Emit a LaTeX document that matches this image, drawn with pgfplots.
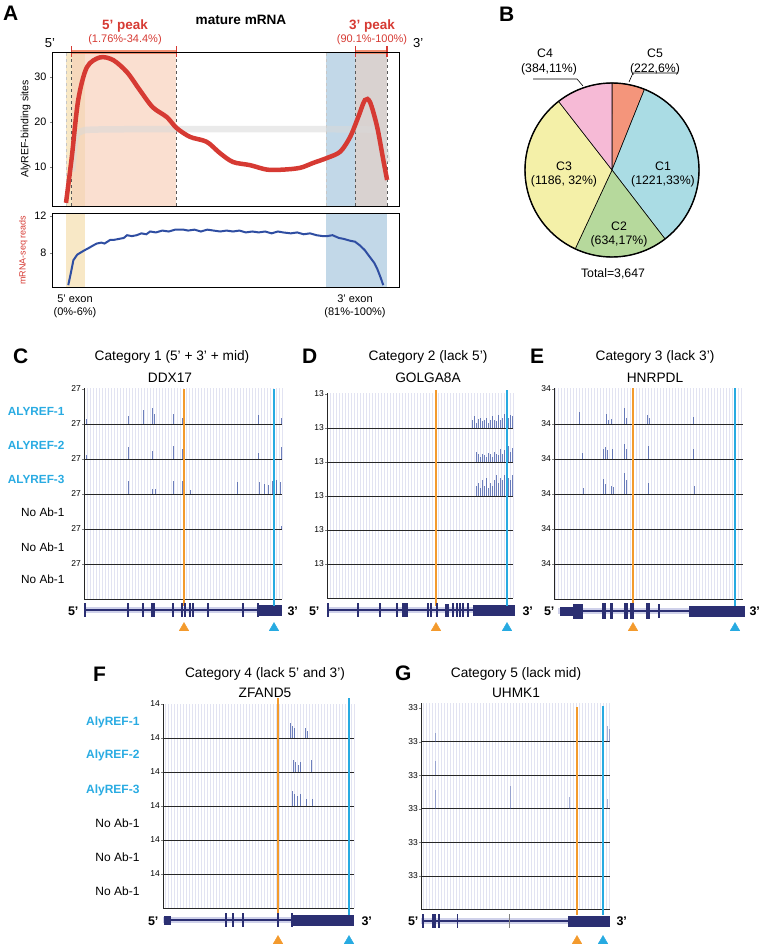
\documentclass[border=0pt]{standalone}
\usepackage{pgfplots}
\pgfplotsset{compat=1.18}
\usepackage{fontspec}
\setmainfont{Liberation Sans}

\newcommand\fs[1]{\fontsize{#1}{#1}\selectfont}

\definecolor{ared}{HTML}{D63A33}
\definecolor{asalm}{HTML}{F28C6E}
\definecolor{ayel}{HTML}{F8E8C6}
\definecolor{aovl}{HTML}{F6D8BC}
\definecolor{apeach}{HTML}{FADFD0}
\definecolor{ablu}{HTML}{C2D8E8}
\definecolor{agrey}{HTML}{D9D2D0}
\definecolor{aline}{HTML}{2F4EA2}
\definecolor{pCa}{HTML}{AADCE4}
\definecolor{pCb}{HTML}{B6D99C}
\definecolor{pCc}{HTML}{F4F0A8}
\definecolor{pCd}{HTML}{F6BAD6}
\definecolor{pCe}{HTML}{F4957B}
\definecolor{torange}{HTML}{F39A2D}
\definecolor{tblue}{HTML}{27AAE1}
\definecolor{navy}{HTML}{2B2F72}
\definecolor{lav}{HTML}{E2E3F2}
\definecolor{halo}{HTML}{CFD1EA}
\definecolor{spkc}{HTML}{3D55A5}
\definecolor{cyanlab}{HTML}{29ABE2}

\pgfplotsset{
  /pgf/number format/assume math mode=true,
  fr/.style={scale only axis, anchor=north west, y dir=reverse,
    axis line style={draw=none}, ytick=\empty, xticklabels={},
    xtick style={draw=none}, xmajorgrids, xtick distance=3,
    major grid style={lav, line width=0.5pt}},
  tk/.style={scale only axis, anchor=north west, ymin=0,
    axis line style={draw=none}, xtick=\empty, ytick pos=left,
    tick align=outside, major tick length=2pt, clip=false,
    yticklabel style={font=\fs{8.5}, inner sep=1pt}},
  ov/.style={scale only axis, anchor=north west, y dir=reverse,
    hide axis, clip=false},
  spk/.style={ycomb, spkc, line width=0.7pt, opacity=0.75},
  exon/.style={only marks, mark=|, mark size=7pt, navy,
    mark options={line width=1.3pt}},
}

% track: x-left, x-right, y-top (px), height, ymax, spikes
\newcommand\trk[6]{%
  \pgfmathsetmacro\tw{#2-#1}%
  \begin{axis}[tk, at={(#1pt,-#3pt)}, width=\tw pt, height=#4pt,
      xmin=#1, xmax=#2, ymax=#5, ytick={#5}]
    \draw[line width=1pt, black!85] (rel axis cs:0,0) -- (rel axis cs:1,0);
    #6
  \end{axis}}
% frame with the light stripes and the left line
\newcommand\frm[4]{%
  \pgfmathsetmacro\tw{#2-#1}\pgfmathsetmacro\th{#4-#3}%
  \begin{axis}[fr, at={(#1pt,-#3pt)}, width=\tw pt, height=\th pt,
      xmin=#1, xmax=#2, ymin=#3, ymax=#4]
    \draw[line width=1pt, black!85] (rel axis cs:0,0) -- (rel axis cs:0,1);
  \end{axis}}
% overlay: marker lines, gene model, triangles
\newcommand\ovl[5]{%
  \pgfmathsetmacro\tw{#2-#1}\pgfmathsetmacro\th{#4-#3}%
  \begin{axis}[ov, at={(#1pt,-#3pt)}, width=\tw pt, height=\th pt,
      xmin=#1, xmax=#2, ymin=#3, ymax=#4]
    #5
  \end{axis}}

\begin{document}
\begin{tikzpicture}
\path[use as bounding box] (0,0) rectangle (759pt,-945pt);

% ================= A =================
\node[anchor=base west, inner sep=0, font=\fs{21}\bfseries] at (3pt,-20pt) {A};
\node[anchor=base, font=\fs{13.6}\bfseries] at (241pt,-24pt) {mature mRNA};
\node[anchor=base, font=\fs{13.5}\bfseries, text=ared] at (125pt,-29pt) {5' peak};
\node[anchor=base, font=\fs{11}, text=ared] at (125pt,-42pt) {(1.76\%-34.4\%)};
\node[anchor=base, font=\fs{13.5}\bfseries, text=ared] at (372pt,-29pt) {3' peak};
\node[anchor=base, font=\fs{11}, text=ared] at (372pt,-42pt) {(90.1\%-100\%)};
\node[anchor=base, font=\fs{13}] at (50pt,-47pt) {5'};
\node[anchor=base west, inner sep=0, font=\fs{13}] at (413pt,-47pt) {3'};

\begin{axis}[scale only axis, anchor=north west, at={(53pt,-52pt)},
    width=346pt, height=154pt, xmin=-4.05, xmax=103.7, ymin=1.3, ymax=35.6,
    xtick=\empty, ytick={10,20,30}, ytick pos=left, tick align=outside,
    major tick length=3pt, tick label style={font=\fs{10.8}},
    ylabel={AlyREF-binding sites}, ylabel style={font=\fs{10.5}, yshift=-3pt},
    axis line style={line width=1pt}, axis on top, clip=false]
  \fill[ayel] (axis cs:0,1.3) rectangle (axis cs:1.76,35.6);
  \fill[aovl] (axis cs:1.76,1.3) rectangle (axis cs:6,35.6);
  \fill[apeach] (axis cs:6,1.3) rectangle (axis cs:34.4,35.6);
  \fill[ablu] (axis cs:81,1.3) rectangle (axis cs:90.1,35.6);
  \fill[agrey] (axis cs:90.1,1.3) rectangle (axis cs:100,35.6);
  \draw[gray!45, dashed, line width=0.8pt] (axis cs:0,1.3) -- (axis cs:0,35.6);
  \draw[gray!45, dashed, line width=0.8pt] (axis cs:81,1.3) -- (axis cs:81,35.6);
  \draw[black!65, dashed, line width=0.8pt] (axis cs:1.76,1.3) -- (axis cs:1.76,35.6);
  \draw[black!65, dashed, line width=0.8pt] (axis cs:34.4,1.3) -- (axis cs:34.4,35.6);
  \draw[black!65, dashed, line width=0.8pt] (axis cs:90.1,1.3) -- (axis cs:90.1,35.6);
  \draw[black!65, dashed, line width=0.8pt] (axis cs:100,1.3) -- (axis cs:100,35.6);
  % background band
  \addplot[gray!30, line width=6.5pt, smooth, opacity=0.55] coordinates {
    (1.9,9)(3,16.5)(5,18)(8,18.3)(20,18.4)(50,18.4)(80,18.4)(95,18.3)
    (97.5,17.6)(99.3,14)(100,11)};
  % AlyREF binding profile
  \addplot[ared, line width=4.5pt, smooth, tension=0.5] coordinates {
    (0,2.0)(1.8,12.2)(3.8,24.9)(6.5,32.2)(10.6,34.4)(14.7,33.8)(19,31.1)
    (23,27.1)(27,23.3)(31.4,21.1)(34.4,18.7)(38.6,16.7)(43.8,15.6)(47.9,13.1)
    (52,11.1)(57.3,10.4)(62.6,9.4)(67.6,9.4)(72.9,9.8)(77,10.9)(81.3,12)
    (85.4,13.4)(88.5,16.7)(91,21.1)(93.1,24.9)(94.7,24.4)(96.9,18.9)
    (98.8,11.6)(100,7.1)};
  % peak brackets on top
  \draw[asalm, line width=4pt] (axis cs:1.76,35.6) -- (axis cs:34.4,35.6);
  \draw[asalm, line width=4pt] (axis cs:90.1,35.6) -- (axis cs:100,35.6);
  \draw[ared, line width=1.3pt] (axis cs:1.76,34.5) -- (axis cs:1.76,36.9);
  \draw[ared, line width=1.3pt] (axis cs:34.4,34.5) -- (axis cs:34.4,36.9);
  \draw[ared, line width=1.3pt] (axis cs:90.1,34.5) -- (axis cs:90.1,36.9);
  \draw[ared, line width=1.3pt] (axis cs:100,34.5) -- (axis cs:100,36.9);
\end{axis}

\begin{axis}[scale only axis, anchor=north west, at={(53pt,-213pt)},
    width=346pt, height=74pt, xmin=-4.05, xmax=103.7, ymin=4.3, ymax=12.3,
    xtick=\empty, ytick={8,12}, ytick pos=left, tick align=outside,
    major tick length=3pt, tick label style={font=\fs{10.8}},
    ylabel={mRNA-seq reads}, ylabel style={font=\fs{9}, text=ared},
    axis line style={line width=1pt}, axis on top, clip=false]
  \fill[ayel] (axis cs:0,4.3) rectangle (axis cs:6,12.3);
  \fill[ablu] (axis cs:81,4.3) rectangle (axis cs:100,12.3);
  \addplot[aline, line width=2pt] coordinates {
    (0.7,4.5)(1.5,5.8)(2.3,7.2)(3.5,7.8)(5.4,8.2)(7,8.5)(8.5,8.8)(9.6,9.0)
    (11,9.1)(12,9.0)(13.8,9.4)(15,9.4)(16.5,9.5)(18,9.6)(19,9.9)(20.5,9.8)
    (22,9.9)(23.5,10.1)(25,10.0)(26.2,10.3)(28,10.2)(30,10.4)(32,10.3)
    (34,10.5)(36.6,10.5)(38,10.4)(40,10.5)(42,10.3)(44,10.5)(46,10.4)
    (48,10.3)(50,10.4)(52,10.3)(54,10.4)(56,10.2)(58,10.3)(60,10.2)
    (62,10.3)(64,10.1)(66,10.3)(67.6,10.2)(70,10.1)(72,10.2)(74,10.0)
    (76,10.1)(78,9.9)(80,9.8)(81.3,9.8)(83,9.9)(85,9.6)(86.5,9.5)(88.5,9.3)
    (90,9.2)(91.5,8.8)(93,8.3)(94.5,7.6)(96,6.9)(97,6.2)(98,5.3)(98.8,4.5)};
\end{axis}
\node[anchor=base, font=\fs{11}] at (75pt,-302pt) {5' exon};
\node[anchor=base, font=\fs{11}] at (75pt,-315pt) {(0\%-6\%)};
\node[anchor=base, font=\fs{11}] at (355pt,-302pt) {3' exon};
\node[anchor=base, font=\fs{11}] at (355pt,-315pt) {(81\%-100\%)};

% ================= B =================
\node[anchor=base west, inner sep=0, font=\fs{21}\bfseries] at (499pt,-21pt) {B};
\pgfmathsetmacro\tot{222+1221+634+1186+384}
\pgfmathsetmacro\dg{360/\tot}
\pgfmathsetmacro\aA{90}
\pgfmathsetmacro\aB{\aA-\dg*222}
\pgfmathsetmacro\aC{\aB-\dg*1221}
\pgfmathsetmacro\aD{\aC-\dg*634}
\pgfmathsetmacro\aE{\aD-\dg*1186}
\pgfmathsetmacro\aF{\aE-\dg*384}
\begin{axis}[hide axis, scale only axis, anchor=center, at={(612pt,-170pt)},
    width=174pt, height=174pt, xmin=-1, xmax=1, ymin=-1, ymax=1, clip=false]
  \filldraw[fill=pCe, line width=0.6pt] (axis cs:0,0) -- (axis cs:{cos(\aA)},{sin(\aA)})
    arc[start angle=\aA, end angle=\aB, radius=87pt] -- cycle;
  \filldraw[fill=pCa, line width=0.6pt] (axis cs:0,0) -- (axis cs:{cos(\aB)},{sin(\aB)})
    arc[start angle=\aB, end angle=\aC, radius=87pt] -- cycle;
  \filldraw[fill=pCb, line width=0.6pt] (axis cs:0,0) -- (axis cs:{cos(\aC)},{sin(\aC)})
    arc[start angle=\aC, end angle=\aD, radius=87pt] -- cycle;
  \filldraw[fill=pCc, line width=0.6pt] (axis cs:0,0) -- (axis cs:{cos(\aD)},{sin(\aD)})
    arc[start angle=\aD, end angle=\aE, radius=87pt] -- cycle;
  \filldraw[fill=pCd, line width=0.6pt] (axis cs:0,0) -- (axis cs:{cos(\aE)},{sin(\aE)})
    arc[start angle=\aE, end angle=\aF, radius=87pt] -- cycle;
  \draw[line width=1.4pt] (axis cs:0,0) circle[radius=87pt];
\end{axis}
\draw[line width=0.6pt] (533pt,-79pt) -- (577pt,-79pt) -- (583pt,-86pt);
\draw[line width=0.6pt] (678pt,-73pt) -- (633pt,-73pt) -- (629pt,-82pt);
\node[anchor=base, font=\fs{12.3}] at (545pt,-57pt) {C4};
\node[anchor=base, font=\fs{12.3}] at (549pt,-72pt) {(384,11\%)};
\node[anchor=base, font=\fs{12.3}] at (655pt,-57pt) {C5};
\node[anchor=base, font=\fs{12.3}] at (655pt,-72pt) {(222,6\%)};
\node[anchor=base, font=\fs{12.3}] at (663pt,-170pt) {C1};
\node[anchor=base, font=\fs{12.3}] at (663pt,-184pt) {(1221,33\%)};
\node[anchor=base, font=\fs{12.3}] at (564pt,-170pt) {C3};
\node[anchor=base, font=\fs{12.3}] at (564pt,-184pt) {(1186, 32\%)};
\node[anchor=base, font=\fs{12.3}] at (619pt,-230pt) {C2};
\node[anchor=base, font=\fs{12.3}] at (619pt,-244pt) {(634,17\%)};
\node[anchor=base, font=\fs{12.3}] at (613pt,-277pt) {Total=3,647};

% ================= C =================
\node[anchor=base west, inner sep=0, font=\fs{21}\bfseries] at (13pt,-363pt) {C};
\node[anchor=base, font=\fs{13.7}] at (172pt,-360pt) {Category 1 (5' + 3' + mid)};
\node[anchor=base, font=\fs{13.7}] at (170pt,-382pt) {DDX17};
\begin{scope}[every node/.style={anchor=base east, font=\fs{11.8}\bfseries, text=cyanlab}]
  \node at (68pt,-415pt) {ALYREF-1};
  \node at (68pt,-449pt) {ALYREF-2};
  \node at (68pt,-483pt) {ALYREF-3};
\end{scope}
\begin{scope}[every node/.style={anchor=base east, font=\fs{11.8}}]
  \node at (68pt,-516pt) {No Ab-1};
  \node at (68pt,-551pt) {No Ab-1};
  \node at (68pt,-583pt) {No Ab-1};
\end{scope}
\frm{84}{282}{388}{599}
\trk{84}{282}{389}{35}{27}{\addplot[spk] coordinates {(86,4)(128,6)(143,11)(152,12)(154,8)(173,8)(182,5)(184,4)(258,7)(281,5)};}
\trk{84}{282}{424}{35}{27}{\addplot[spk] coordinates {(86,3)(128,9)(152,6)(173,10)(182,8)(184,5)(258,5)(281,9)};}
\trk{84}{282}{459}{35}{27}{\addplot[spk] coordinates {(128,10)(152,4)(155,4)(173,10)(182,10)(184,6)(190,3)(237,9)(259,9)(264,8)(268,7)(272,10)(276,11)(280,9)};}
\trk{84}{282}{494}{35}{27}{\addplot[spk] coordinates {(281,2)};}
\trk{84}{282}{529}{35}{27}{}
\trk{84}{282}{564}{35}{27}{}
\ovl{84}{282}{389}{640}{
  \addplot[halo, line width=6pt] coordinates {(84,610)(282,610)};
  \addplot[navy, line width=1.2pt] coordinates {(84,610)(258,610)};
  \addplot[exon] coordinates {(85,610)(128,610)(143,610)(152,610)(154,610)(173,610)(182,610)(185,610)(190,610)(193,610)(208,610)(243,610)(258,610)};
  \addplot[navy, line width=11pt] coordinates {(258,610)(282,610)};
  \addplot[torange, line width=1.3pt] coordinates {(184,389)(184,606)};
  \addplot[tblue, line width=1.3pt] coordinates {(274,389)(274,606)};
  \addplot[only marks, mark=triangle*, mark size=5.5pt, torange] coordinates {(184,628)};
  \addplot[only marks, mark=triangle*, mark size=5.5pt, tblue] coordinates {(274,628)};
}
\node[anchor=base east, font=\fs{12.5}\bfseries] at (82pt,-615pt) {5'};
\node[anchor=base west, font=\fs{12.5}\bfseries] at (284pt,-615pt) {3'};

% ================= D =================
\node[anchor=base west, inner sep=0, font=\fs{21}\bfseries] at (302pt,-363pt) {D};
\node[anchor=base, font=\fs{13.7}] at (428pt,-360pt) {Category 2 (lack 5')};
\node[anchor=base, font=\fs{13.7}] at (428pt,-382pt) {GOLGA8A};
\frm{327}{513}{393}{598}
\trk{327}{513}{394}{34}{13}{\addplot[spk] coordinates {(472,3)(474,4.5)(476,2)(478,3.5)(480,4)(482,2.5)(484,3)(486,4)(488,2)(490,3)(492,4.5)(494,3)(496,2.5)(498,5)(500,3)(502,4)(504,5.5)(506,3)(508,4)(510,5)(512,4.5)};}
\trk{327}{513}{428}{34}{13}{\addplot[spk] coordinates {(476,4)(478,3)(480,2)(482,3)(484,2.5)(486,2)(488,3.5)(490,3)(492,2)(494,4)(496,3)(498,2.5)(500,5)(502,3)(504,4.5)(506,5)(508,6)(510,4)(512,5.5)};}
\trk{327}{513}{462}{34}{13}{\addplot[spk] coordinates {(476,4)(478,5)(480,3)(482,6)(484,4)(486,7)(488,3)(490,5)(492,4)(494,6)(496,8)(498,5)(500,7)(502,6)(504,8)(506,5)(508,7)(510,6)(512,8)};}
\trk{327}{513}{496}{34}{13}{}
\trk{327}{513}{530}{34}{13}{}
\trk{327}{513}{564}{34}{13}{}
\ovl{327}{513}{389}{640}{
  \addplot[halo, line width=6pt] coordinates {(327,610)(513,610)};
  \addplot[navy, line width=1.2pt] coordinates {(327,610)(473,610)};
  \addplot[exon] coordinates {(328,610)(358,610)(380,610)(397,610)(403,610)(405,610)(407,610)(428,610)(431,610)(437,610)(453,610)(457,610)(460,610)(463,610)(468,610)};
  \addplot[navy, line width=13pt] coordinates {(445,610)(449,610)};
  \addplot[navy, line width=11pt] coordinates {(473,610)(515,610)};
  \addplot[torange, line width=1.3pt] coordinates {(436,390)(436,606)};
  \addplot[tblue, line width=1.3pt] coordinates {(507,390)(507,606)};
  \addplot[only marks, mark=triangle*, mark size=5.5pt, torange] coordinates {(436,628)};
  \addplot[only marks, mark=triangle*, mark size=5.5pt, tblue] coordinates {(507,628)};
}
\node[anchor=base east, font=\fs{12.5}\bfseries] at (323pt,-615pt) {5'};
\node[anchor=base west, font=\fs{12.5}\bfseries] at (519pt,-615pt) {3'};

% ================= E =================
\node[anchor=base west, inner sep=0, font=\fs{21}\bfseries] at (530pt,-363pt) {E};
\node[anchor=base, font=\fs{13.7}] at (655pt,-360pt) {Category 3 (lack 3')};
\node[anchor=base, font=\fs{13.7}] at (655pt,-382pt) {HNRPDL};
\frm{554}{743}{388}{599}
\trk{554}{743}{389}{35}{34}{\addplot[spk] coordinates {(579,12)(606,10)(608,4)(611,5)(624,16)(626,6)(647,9)(649,6)(693,7)};}
\trk{554}{743}{424}{35}{34}{\addplot[spk] coordinates {(582,6)(603,10)(605,12)(607,9)(612,10)(624,15)(626,10)(648,13)(693,10)};}
\trk{554}{743}{459}{35}{34}{\addplot[spk] coordinates {(583,6)(603,15)(605,10)(611,8)(613,7)(624,20)(626,14)(648,11)(694,8)};}
\trk{554}{743}{494}{35}{34}{}
\trk{554}{743}{529}{35}{34}{}
\trk{554}{743}{564}{35}{34}{}
\ovl{554}{743}{388}{640}{
  \addplot[halo, line width=6pt] coordinates {(558,611)(745,611)};
  \addplot[navy, line width=1.2pt] coordinates {(560,611)(689,611)};
  \addplot[navy, line width=9pt] coordinates {(560,611)(573,611)};
  \addplot[navy, line width=15pt] coordinates {(573,611)(583,611)};
  \addplot[only marks, mark=|, mark size=8pt, navy, mark options={line width=3.5pt}] coordinates {(604,611)(611.5,611)(626,611)(632,611)(648,611)};
  \addplot[exon] coordinates {(659,611)};
  \addplot[navy, line width=11pt] coordinates {(689,611)(745,611)};
  \addplot[torange, line width=1.3pt] coordinates {(633,388)(633,606)};
  \addplot[tblue, line width=1.3pt] coordinates {(735,388)(735,606)};
  \addplot[only marks, mark=triangle*, mark size=5.5pt, torange] coordinates {(633,628)};
  \addplot[only marks, mark=triangle*, mark size=5.5pt, tblue] coordinates {(735,628)};
}
\node[anchor=base east, font=\fs{12.5}\bfseries] at (558pt,-615pt) {5'};
\node[anchor=base west, font=\fs{12.5}\bfseries] at (746pt,-615pt) {3'};

% ================= F =================
\node[anchor=base west, inner sep=0, font=\fs{21}\bfseries] at (93pt,-681pt) {F};
\node[anchor=base, font=\fs{13.7}] at (265pt,-677pt) {Category 4 (lack 5' and 3')};
\node[anchor=base, font=\fs{13.7}] at (265pt,-697pt) {ZFAND5};
\begin{scope}[every node/.style={anchor=base east, font=\fs{12}\bfseries, text=cyanlab}]
  \node at (143pt,-725pt) {AlyREF-1};
  \node at (143pt,-758pt) {AlyREF-2};
  \node at (143pt,-793pt) {AlyREF-3};
\end{scope}
\begin{scope}[every node/.style={anchor=base east, font=\fs{12}}]
  \node at (143pt,-827pt) {No Ab-1};
  \node at (143pt,-861pt) {No Ab-1};
  \node at (143pt,-895pt) {No Ab-1};
\end{scope}
\frm{163}{354}{704}{908}
\trk{163}{354}{704}{34}{14}{\addplot[spk] coordinates {(290,6)(292,5)(294,4)(305,4)(307,3)};}
\trk{163}{354}{738}{34}{14}{\addplot[spk] coordinates {(293,5)(295,4)(298,3)(300,4)(311,5)};}
\trk{163}{354}{772}{34}{14}{\addplot[spk] coordinates {(292,6)(294,5)(297,4)(300,5)(306,3)(312,3)};}
\trk{163}{354}{806}{34}{14}{}
\trk{163}{354}{840}{34}{14}{}
\trk{163}{354}{874}{34}{14}{}
\ovl{163}{354}{690}{950}{
  \addplot[halo, line width=6pt] coordinates {(163,920)(354,920)};
  \addplot[navy, line width=9pt] coordinates {(164,920)(171,920)};
  \addplot[navy, line width=1.2pt] coordinates {(171,920)(292,920)};
  \addplot[exon] coordinates {(226,920)(233,920)(243,920)(278,920)(292,920)};
  \addplot[navy, line width=11pt] coordinates {(292,920)(354,920)};
  \addplot[torange, line width=1.3pt] coordinates {(278,698)(278,915)};
  \addplot[tblue, line width=1.3pt] coordinates {(349,698)(349,915)};
  \addplot[only marks, mark=triangle*, mark size=5.5pt, torange] coordinates {(278,941)};
  \addplot[only marks, mark=triangle*, mark size=5.5pt, tblue] coordinates {(349,941)};
}
\node[anchor=base east, font=\fs{12.5}\bfseries] at (162pt,-925pt) {5'};
\node[anchor=base west, font=\fs{12.5}\bfseries] at (358pt,-925pt) {3'};

% ================= G =================
\node[anchor=base west, inner sep=0, font=\fs{21}\bfseries] at (395pt,-680pt) {G};
\node[anchor=base, font=\fs{13.7}] at (516pt,-677pt) {Category 5 (lack mid)};
\node[anchor=base, font=\fs{13.7}] at (516pt,-697pt) {UHMK1};
\frm{421}{610}{703}{910}
\trk{421}{610}{708}{33.6}{33}{\addplot[spk, opacity=0.45] coordinates {(435,8)(607,15)(609,12)};}
\trk{421}{610}{741.6}{33.6}{33}{\addplot[spk, opacity=0.45] coordinates {(435,14)};}
\trk{421}{610}{775.2}{33.6}{33}{\addplot[spk, opacity=0.45] coordinates {(435,18)(510,22)(569,12)(607,10)};}
\trk{421}{610}{808.8}{33.6}{33}{}
\trk{421}{610}{842.4}{33.6}{33}{}
\trk{421}{610}{876}{33.6}{33}{}
\ovl{421}{610}{690}{950}{
  \addplot[halo, line width=6pt] coordinates {(421,921)(610,921)};
  \addplot[navy, line width=1.2pt] coordinates {(423,921)(568,921)};
  \addplot[exon] coordinates {(423,921)(433,921)(435,921)(439,921)};
  \addplot[exon, mark options={line width=0.8pt}] coordinates {(457,921)};
  \addplot[exon, gray, mark options={line width=0.8pt}] coordinates {(509,921)};
  \addplot[navy, line width=11pt] coordinates {(568,921)(610,921)};
  \addplot[torange, line width=1.3pt] coordinates {(577,707)(577,915)};
  \addplot[tblue, line width=1.3pt] coordinates {(603,706)(603,915)};
  \addplot[only marks, mark=triangle*, mark size=5.5pt, torange] coordinates {(577,941)};
  \addplot[only marks, mark=triangle*, mark size=5.5pt, tblue] coordinates {(603,941)};
}
\node[anchor=base east, font=\fs{12.5}\bfseries] at (422pt,-925pt) {5'};
\node[anchor=base west, font=\fs{12.5}\bfseries] at (613pt,-925pt) {3'};

\end{tikzpicture}
\end{document}
